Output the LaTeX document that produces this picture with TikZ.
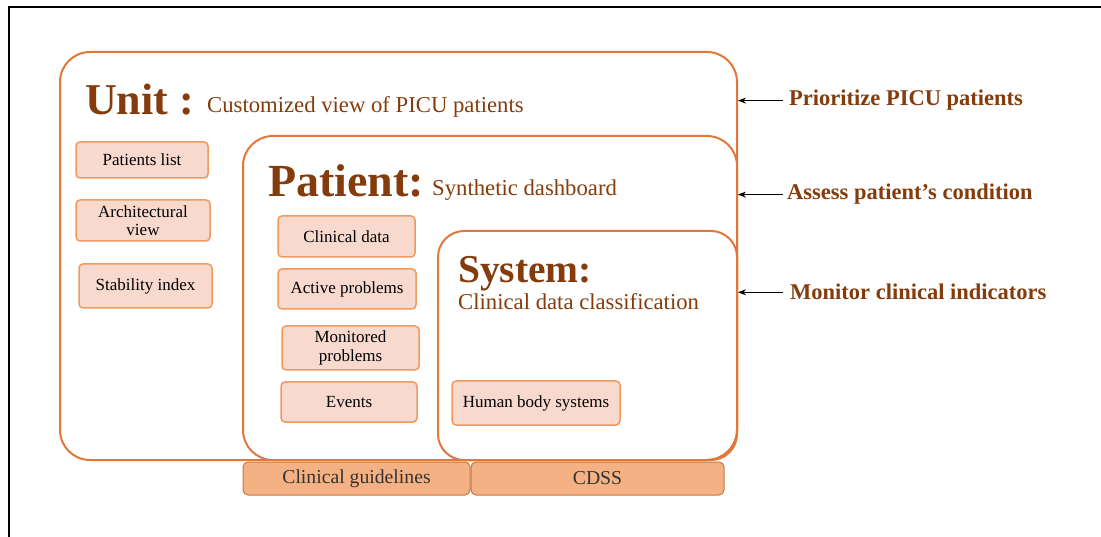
\documentclass[tikz,border=0pt]{standalone}
\usepackage{fontspec}
\setmainfont{Liberation Serif}
\usetikzlibrary{fit,arrows.meta}
\definecolor{darkbrown}{HTML}{843C0C}
\definecolor{boxline}{HTML}{E1783A}
\definecolor{itemfill}{HTML}{F8D9CD}
\definecolor{itemline}{HTML}{F09A60}
\definecolor{barfill}{HTML}{F4B183}
\definecolor{barline}{HTML}{C27A44}

\begin{document}
\begin{tikzpicture}[x=1pt,y=-1pt,
  bigbox/.style={draw=boxline,line width=2pt,rounded corners=30pt,inner sep=0pt},
  item/.style={draw=itemline,fill=itemfill,line width=1.5pt,rounded corners=4pt,align=center,inner sep=2pt,font=\fontsize{17}{18.5}\selectfont},
  bar/.style={draw=barline,fill=barfill,line width=1pt,rounded corners=5pt,minimum height=33pt,text=black!80,font=\fontsize{19.7}{20}\selectfont},
  title/.style={anchor=base west,inner sep=0pt,text=darkbrown},
  goal/.style={anchor=base west,inner sep=0pt,text=darkbrown,font=\fontsize{22.5}{24}\selectfont\bfseries},
  arr/.style={-{Stealth[length=8pt,width=6pt]},line width=1pt}]
\useasboundingbox (0,0) rectangle (1101,537);
\draw[line width=2pt] (9,537) -- (9,7) -- (1101,7);

% nested levels
\node[bigbox,fit={(60,52) (737,460)}] (unit) {};
\node[bigbox,fit={(243,136) (737,460)}] (patient) {};
\node[bigbox,rounded corners=26pt,fit={(438,231) (737,460)}] (system) {};

\node[title,font=\fontsize{44}{48}\selectfont\bfseries] (unitttl) at (85,115) {Unit :};
\node[title,font=\fontsize{22.7}{24}\selectfont] (unitsub) at (207,113) {Customized view of PICU patients};
\node[title,font=\fontsize{46}{48}\selectfont\bfseries] (patttl) at (268,197) {Patient:};
\node[title,font=\fontsize{22.7}{24}\selectfont] (patsub) at (432,196) {Synthetic dashboard};
\node[title,font=\fontsize{39.5}{40}\selectfont\bfseries] (systtl) at (458,283) {System:};
\node[title,font=\fontsize{22.7}{24}\selectfont] (syssub) at (458,310) {Clinical data classification};

% unit items
\node[item,minimum width=132pt,minimum height=36pt] (plist) at (142,160) {Patients list};
\node[item,minimum width=134pt,minimum height=41pt] (archi) at (143,220.5) {Architectural\\view};
\node[item,minimum width=133pt,minimum height=44pt] (stab) at (145.5,286) {Stability index};

% patient items
\node[item,minimum width=137pt,minimum height=41pt] (clin) at (346.5,236.5) {Clinical data};
\node[item,minimum width=138pt,minimum height=40pt] (active) at (347,289) {Active problems};
\node[item,minimum width=137pt,minimum height=44pt] (monit) at (350.5,348) {Monitored\\problems};
\node[item,minimum width=136pt,minimum height=40pt] (events) at (349,402) {Events};

% system items
\node[item,minimum width=168pt,minimum height=44pt] (body) at (536,403) {Human body systems};

\node[bar,minimum width=227pt] (guide) at (356.5,478.5) {Clinical guidelines};
\node[bar,minimum width=253pt] (cdss) at (597.5,478.5) {CDSS};

% goals
\node[goal] (prio) at (789,106) {Prioritize PICU patients};
\node[goal] (assess) at (787,200) {Assess patient’s condition};
\node[goal] (monitor) at (790,300) {Monitor clinical indicators};

\draw[arr] ([xshift=-6pt]prio.west) -- (unit.east |- prio.west);
\draw[arr] ([xshift=-4pt]assess.west) -- (patient.east |- assess.west);
\draw[arr] ([xshift=-7pt]monitor.west) -- (system.east |- monitor.west);
\end{tikzpicture}
\end{document}
